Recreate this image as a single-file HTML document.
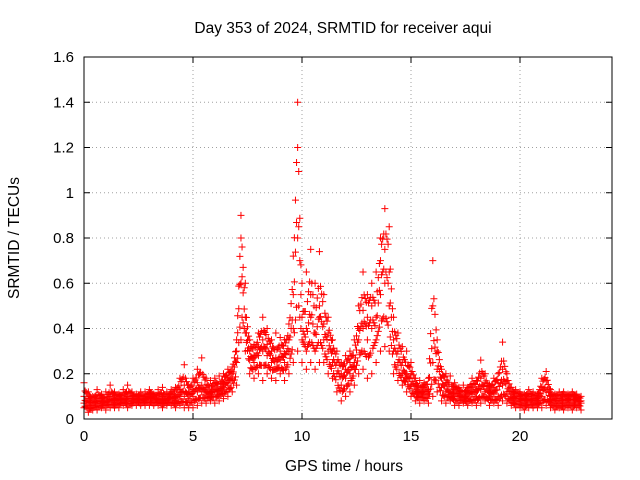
<!DOCTYPE html>
<html><head><meta charset="utf-8"><style>
body{margin:0;background:#fff;}
svg{display:block;font-family:"Liberation Sans",sans-serif;}
</style></head><body>
<svg id="chart" width="640" height="480" xmlns="http://www.w3.org/2000/svg">
<rect width="640" height="480" fill="#fff"/>
<g id="grid"></g>
<g id="ticks"></g>
<g id="points"></g>
<rect x="84" y="57" width="528" height="362" fill="none" stroke="#000" stroke-width="1"/>
<text x="343" y="33" text-anchor="middle" font-size="15.5">Day 353 of 2024, SRMTID for receiver aqui</text>
<text x="344" y="471" text-anchor="middle" font-size="15.5">GPS time / hours</text>
<text transform="translate(19,238) rotate(-90)" text-anchor="middle" font-size="15.5">SRMTID / TECUs</text>
</svg>
<script>
const times=[0,0.2,0.4,0.6,0.8,1.0,1.2,1.4,1.6,1.8,2.0,2.2,2.4,2.6,2.8,3.0,3.2,3.4,3.6,3.8,4.0,4.2,4.4,4.6,4.8,5.0,5.2,5.4,5.6,5.8,6.0,6.2,6.4,6.6,6.8,7.0,7.2,7.4,7.6,7.8,8.0,8.2,8.4,8.6,8.8,9.0,9.2,9.4,9.6,9.8,10.0,10.2,10.4,10.6,10.8,11.0,11.2,11.4,11.6,11.8,12.0,12.2,12.4,12.6,12.8,13.0,13.2,13.4,13.6,13.8,14.0,14.2,14.4,14.6,14.8,15.0,15.2,15.4,15.6,15.8,16.0,16.2,16.4,16.6,16.8,17.0,17.2,17.4,17.6,17.8,18.0,18.2,18.4,18.6,18.8,19.0,19.2,19.4,19.6,19.8,20.0,20.2,20.4,20.6,20.8,21.0,21.2,21.4,21.6,21.8,22.0,22.2,22.4,22.6,22.8];
const lowVals=[.05,.03,.04,.04,.05,.04,.05,.05,.05,.06,.05,.06,.06,.06,.06,.06,.06,.06,.05,.06,.06,.05,.06,.05,.05,.05,.06,.07,.07,.08,.07,.08,.09,.10,.12,.15,.35,.30,.20,.18,.20,.17,.20,.18,.17,.20,.17,.20,.25,.30,.25,.22,.25,.22,.25,.25,.20,.18,.12,.08,.10,.12,.15,.20,.22,.18,.20,.25,.30,.32,.30,.20,.17,.15,.12,.10,.08,.07,.08,.07,.10,.12,.08,.07,.08,.06,.06,.07,.06,.07,.06,.07,.08,.06,.07,.06,.08,.07,.06,.05,.05,.04,.05,.05,.05,.05,.06,.05,.04,.05,.04,.05,.04,.05,.04];
const midVals=[.07,.06,.06,.07,.07,.08,.08,.07,.08,.09,.08,.08,.09,.08,.09,.09,.08,.09,.08,.09,.09,.08,.10,.10,.09,.10,.12,.12,.11,.12,.12,.13,.14,.15,.17,.25,.60,.45,.26,.25,.28,.30,.28,.25,.27,.26,.25,.30,.40,.80,.45,.40,.45,.38,.45,.35,.30,.25,.20,.15,.18,.20,.25,.35,.40,.35,.40,.45,.55,.60,.50,.30,.25,.20,.20,.15,.12,.12,.11,.11,.25,.22,.14,.12,.12,.10,.10,.10,.09,.11,.10,.13,.12,.10,.11,.10,.15,.12,.09,.08,.08,.07,.08,.07,.08,.10,.12,.08,.07,.07,.07,.08,.07,.08,.07];
const highVals=[.16,.12,.10,.13,.11,.12,.15,.12,.11,.13,.15,.12,.11,.12,.12,.13,.11,.13,.14,.12,.13,.14,.18,.24,.15,.18,.22,.27,.18,.17,.18,.19,.20,.22,.23,.35,.90,.60,.35,.33,.38,.45,.40,.35,.38,.36,.35,.42,.72,1.40,.60,.65,.75,.60,.74,.55,.45,.35,.30,.25,.28,.30,.35,.50,.65,.55,.60,.65,.80,.93,.85,.45,.38,.32,.30,.25,.18,.17,.16,.18,.70,.35,.22,.20,.19,.16,.14,.15,.14,.18,.17,.26,.20,.15,.18,.20,.34,.20,.14,.13,.12,.11,.13,.12,.11,.18,.21,.13,.11,.12,.12,.11,.12,.11,.10];
const extraVals=[.10,.09,.08,.09,.09,.06,.10,.09,.10,.08,.10,.10,.08,.10,.07,.11,.10,.08,.10,.07,.11,.10,.13,.15,.12,.13,.16,.15,.14,.10,.15,.11,.16,.18,.20,.30,.80,.38,.30,.28,.32,.35,.33,.30,.22,.30,.29,.35,.55,1.2,.35,.30,.55,.30,.50,.42,.38,.30,.25,.20,.22,.25,.22,.40,.48,.45,.50,.35,.70,.75,.65,.35,.30,.25,.18,.20,.15,.10,.14,.13,.50,.30,.18,.16,.10,.13,.12,.08,.12,.14,.13,.18,.16,.12,.14,.16,.22,.17,.11,.10,.10,.09,.10,.09,.09,.14,.17,.10,.09,.09,.10,.09,.10,.09,.08];
const xTicks=[0,5,10,15,20];
const yTicks=[0,0.2,0.4,0.6,0.8,1,1.2,1.4,1.6];
const yTickLabels=["0","0.2","0.4","0.6","0.8","1","1.2","1.4","1.6"];

const X0=84,X1=612,Y0=419,Y1=57,XMAX=24.22,YMAX=1.6;
function sx(v){return X0+(X1-X0)*v/XMAX;}
function sy(v){return Y0-(Y0-Y1)*v/YMAX;}
const NS="http://www.w3.org/2000/svg";
function mk(tag,attrs,parent){const e=document.createElementNS(NS,tag);for(const k in attrs)e.setAttribute(k,attrs[k]);parent.appendChild(e);return e;}
const grid=document.getElementById('grid'),ticks=document.getElementById('ticks'),pts=document.getElementById('points');
xTicks.forEach(t=>{
  const x=sx(t);
  if(t>0){const g=mk('line',{x1:x,x2:x,y1:Y0,y2:Y1,stroke:'#a0a0a0','stroke-dasharray':'1,3'},grid);
  
  }
  mk('line',{x1:x,x2:x,y1:Y0,y2:Y0-6,stroke:'#000'},ticks);
  mk('line',{x1:x,x2:x,y1:Y1,y2:Y1+6,stroke:'#000'},ticks);
  const l=mk('text',{x:x,y:Y0+22,'text-anchor':'middle','font-size':'15'},ticks);
  l.textContent=t;
  
  
});
yTicks.forEach((t,i)=>{
  const y=sy(t);
  if(t>0&&t<YMAX){const g=mk('line',{x1:X0,x2:X1,y1:y,y2:y,stroke:'#a0a0a0','stroke-dasharray':'1,3'},grid);
  
  }
  mk('line',{x1:X0,x2:X0+6,y1:y,y2:y,stroke:'#000'},ticks);
  mk('line',{x1:X1,x2:X1-6,y1:y,y2:y,stroke:'#000'},ticks);
  const l=mk('text',{x:X0-10,y:y+5,'text-anchor':'end','font-size':'15'},ticks);
  l.textContent=yTickLabels[i];
  
  
});
function plus(t,v){
  const x=sx(t),y=sy(v);
  const p=mk('path',{d:`M${x-3.5},${y}h7M${x},${y-3.5}v7`,stroke:'#ff0000','stroke-width':'1',fill:'none'},pts);
  
  
}
const series=[lowVals,midVals,extraVals,highVals];
series.forEach(s=>{
  times.forEach((t,i)=>plus(t,s[i]));
});
// fill in between samples for density (mixing neighbouring series)
for(let i=0;i<times.length-1;i++){
  for(let k=1;k<4;k++){
    const f=k/4;
    const t=times[i]+(times[i+1]-times[i])*f;
    for(let j=0;j<series.length-1;j++){
      const a=series[j][i]*(1-f)+series[j+1][i+1]*f;
      const b=series[j+1][i]*(1-f)+series[j][i+1]*f;
      plus(t,(a+b)/2);
    }
  }
}
</script>
</body></html>
